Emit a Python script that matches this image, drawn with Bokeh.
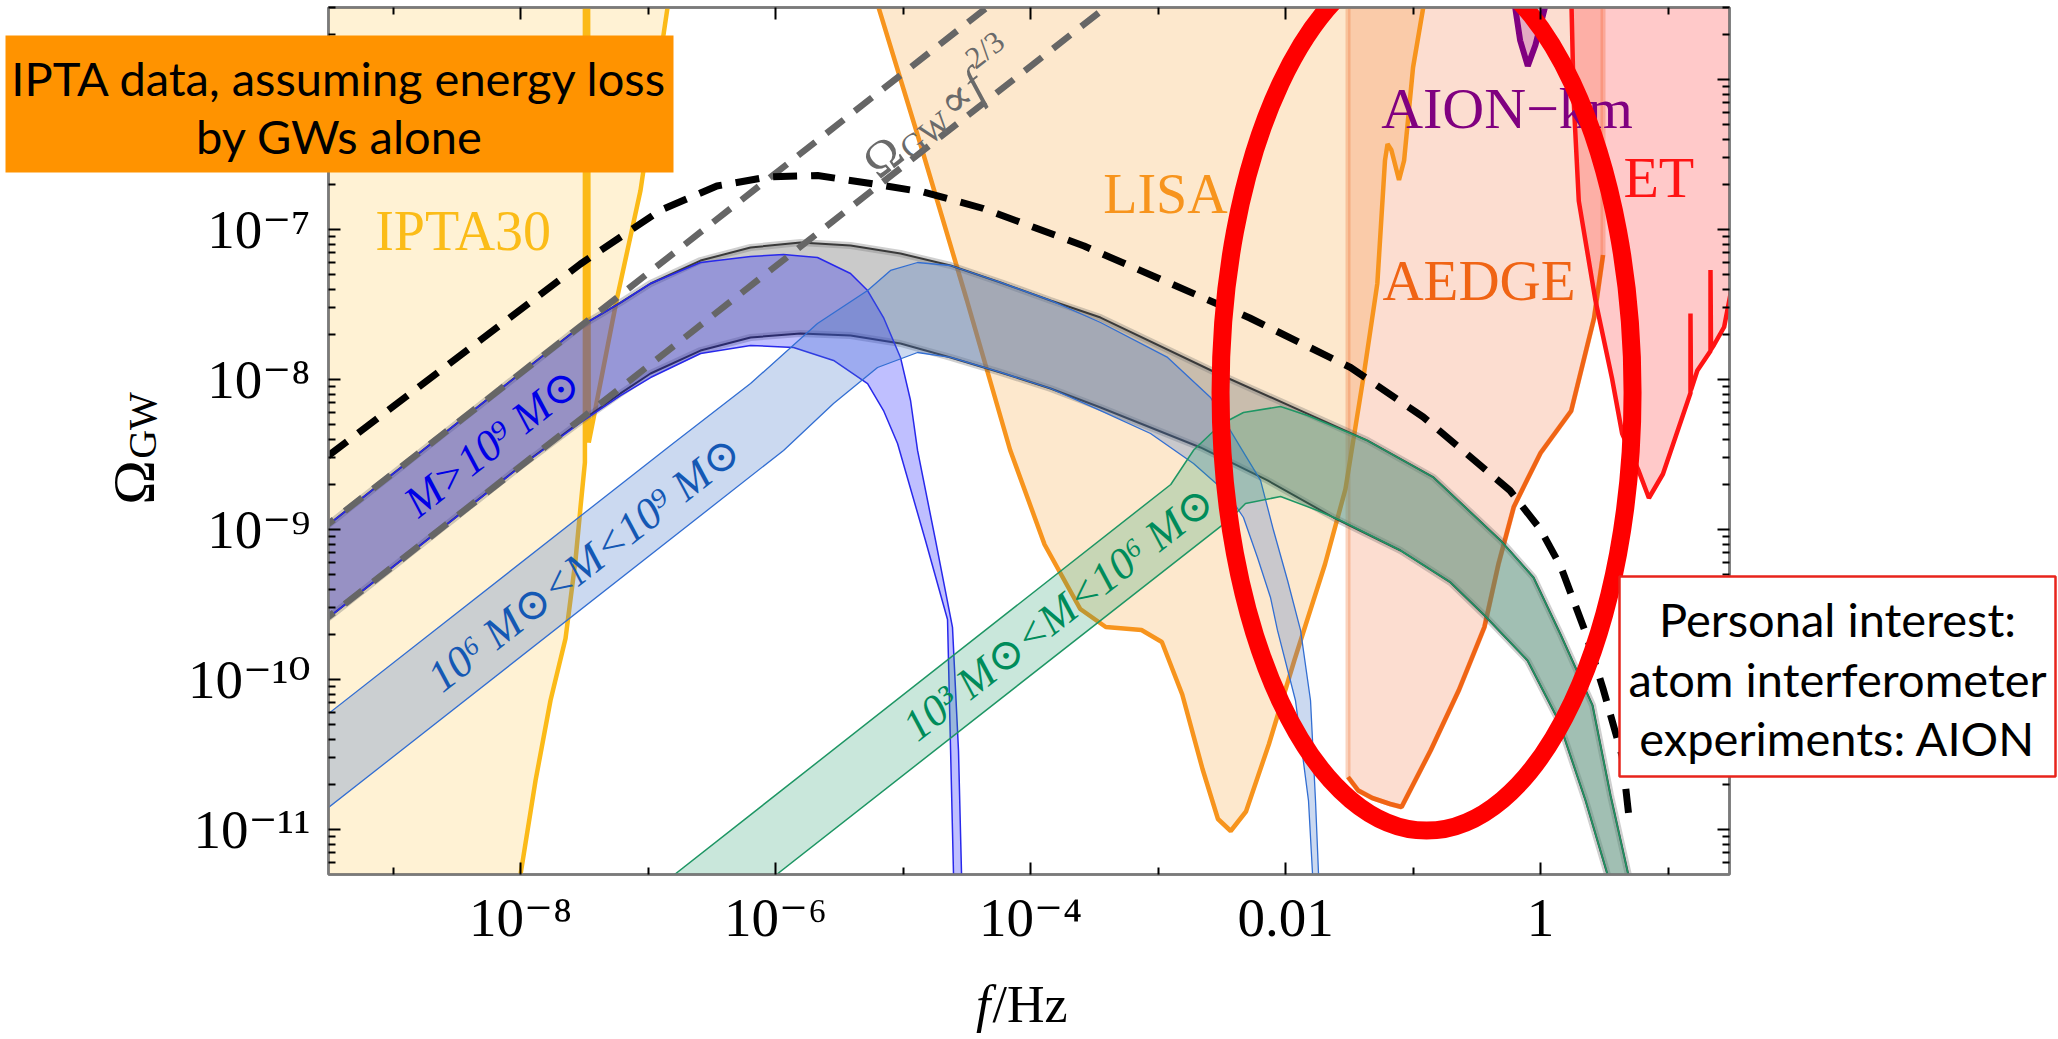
import math
from bokeh.plotting import figure
from bokeh.layouts import column
from bokeh.models import Range1d, FixedTicker, LogAxis, ColumnDataSource
from bokeh.core.properties import value
from bokeh.embed import file_html
from bokeh.resources import INLINE

# ---------------- data: log10(f/Hz), log10(Omega_GW) ----------------
ipta_lf = [-8.03, -8.00, -7.882, -7.765, -7.647, -7.569, -7.529, -7.495, -7.495, -7.47, -7.465, -7.42, -7.247, -7.059, -6.847, -6.83]
ipta_lo = [-11.6, -11.30, -10.673, -10.14, -9.727, -9.207, -8.847, -8.553, -5.40, -5.40, -8.42, -8.227, -7.473, -6.74, -5.52, -5.40]

lisa_lf = [-5.235, -4.85, -4.50, -4.16, -3.89, -3.61, -3.41, -3.13, -2.97, -2.81, -2.65, -2.53, -2.43, -2.31, -2.13, -1.93,
           -1.69, -1.53, -1.39, -1.28, -1.22, -1.20, -1.17, -1.11, -1.07, -1.00, -0.92, -0.89]
lisa_lo = [-5.40, -6.47, -7.47, -8.47, -9.10, -9.53, -9.65, -9.67, -9.75, -10.10, -10.60, -10.93, -11.01, -10.88, -10.43, -9.87,
           -9.23, -8.73, -7.99, -7.36, -6.54, -6.43, -6.47, -6.67, -6.54, -5.92, -5.52, -5.40]

aedge_lf = [-1.51, -1.51, -1.43, -1.32, -1.18, -1.09, -0.86, -0.64, -0.44, -0.33, -0.21, -0.10, 0.00, 0.24, 0.42, 0.49, 0.49]
aedge_lo = [-5.40, -10.65, -10.74, -10.79, -10.83, -10.85, -10.47, -10.07, -9.65, -9.23, -8.85, -8.66, -8.49, -8.21, -7.59, -7.17, -5.40]

et_lf = [0.24, 0.26, 0.30, 0.43, 0.56, 0.64, 0.77, 0.85, 0.96, 1.176, 1.176, 1.18, 1.23, 1.333, 1.333, 1.337, 1.36, 1.44, 1.49, 1.55]
et_lo = [-5.40, -6.14, -6.81, -7.47, -7.99, -8.36, -8.61, -8.79, -8.63, -8.09, -7.56, -8.07, -7.94, -7.81, -7.27, -7.80, -7.77, -7.65, -7.43, -7.10]

aion_lf = [-0.22, -0.16, -0.10, -0.04, 0.07]
aion_lo = [-5.40, -5.74, -5.91, -5.77, -5.40]

bh_lf = [-9.51, -7.53, -6.90, -6.46, -6.06, -5.67, -5.28, -4.84, -4.37, -3.58, -2.28, -1.49, -0.92, -0.24, 0.0, 0.16, 0.35, 0.49, 0.64, 0.69]
bh_lo = [-8.51, -7.23, -6.87, -6.71, -6.65, -6.64, -6.69, -6.75, -6.86, -7.11, -7.59, -7.92, -8.25, -8.74, -9.0, -9.25, -9.68, -10.06, -10.51, -10.89]

pl_hi_lf = [-9.6, -4.2]          # Omega_GW ∝ f^(2/3), upper
pl_hi_lo = [-9.025, -5.425]
pl_lo_lf = [-9.6, -3.3]          # Omega_GW ∝ f^(2/3), lower
pl_lo_lo = [-9.645, -5.445]

grey_up_lf = [-9.6, -8.157, -7.529, -7.216, -6.98, -6.588, -6.196, -5.804, -5.412, -5.02, -4.627, -4.235, -3.843, -3.451,
              -2.533, -1.882, -1.357, -0.839, -0.314, -0.055, 0.157, 0.408, 0.549, 0.690, 0.72]
grey_up_lo = [-9.03, -8.063, -7.645, -7.487, -7.36, -7.207, -7.12, -7.087, -7.107, -7.16, -7.24, -7.353, -7.473, -7.587,
              -7.96, -8.207, -8.407, -8.653, -9.073, -9.32, -9.70, -10.173, -10.773, -11.307, -11.6]
grey_dn_lf = [-9.6, -8.0, -7.529, -7.216, -6.98, -6.588, -6.196, -5.804, -5.412, -5.02, -4.627, -4.235, -3.843, -3.451,
              -2.667, -2.141, -1.624, -1.098, -0.706, -0.439, -0.102, 0.141, 0.353, 0.525, 0.55]
grey_dn_lo = [-9.65, -8.578, -8.28, -8.093, -7.96, -7.807, -7.72, -7.693, -7.707, -7.76, -7.853, -7.953, -8.06, -8.187,
              -8.453, -8.673, -8.92, -9.14, -9.353, -9.573, -9.873, -10.273, -10.807, -11.30, -11.6]

pur_up_lf = [-9.6, -8.157, -7.529, -7.216, -6.98, -6.588, -6.196, -5.937, -5.671, -5.412, -5.278, -5.153, -5.02, -4.941,
             -4.886, -4.745, -4.612, -4.565, -4.541, -4.535]
pur_up_lo = [-9.03, -8.063, -7.645, -7.487, -7.36, -7.22, -7.18, -7.167, -7.187, -7.293, -7.407, -7.587, -7.853, -8.14,
             -8.473, -9.073, -9.653, -10.473, -11.30, -11.6]
pur_dn_lf = [-9.6, -8.0, -7.529, -7.216, -6.98, -6.588, -6.196, -5.859, -5.545, -5.278, -5.153, -5.043, -4.824, -4.651,
             -4.627, -4.604, -4.60]
pur_dn_lo = [-9.65, -8.58, -8.287, -8.107, -7.987, -7.827, -7.773, -7.787, -7.873, -8.027, -8.207, -8.427, -9.073, -9.60,
             -10.473, -11.30, -11.6]

lb_up_lf = [-9.6, -6.824, -6.196, -5.671, -5.278, -5.098, -4.886, -4.627, -4.235, -3.843, -3.451, -2.925, -2.588, -2.353,
            -2.196, -2.094, -1.984, -1.882, -1.804, -1.765, -1.741, -1.74]
lb_up_lo = [-10.29, -8.44, -8.027, -7.627, -7.407, -7.273, -7.22, -7.24, -7.353, -7.473, -7.62, -7.853, -8.12, -8.453,
            -8.673, -9.007, -9.34, -9.673, -10.14, -10.807, -11.30, -11.6]
lb_dn_lf = [-9.6, -5.937, -5.545, -5.2, -4.886, -4.627, -4.235, -3.843, -3.451, -3.059, -2.722, -2.455, -2.33, -2.22,
            -2.118, -2.063, -1.922, -1.82, -1.788, -1.785]
lb_dn_lo = [-10.916, -8.473, -8.16, -7.92, -7.82, -7.853, -7.953, -8.06, -8.207, -8.36, -8.56, -8.76, -8.92, -9.187,
            -9.453, -9.673, -10.14, -10.807, -11.30, -11.6]

gr_up_lf = [-7.24, -6.792, -2.9, -2.72, -2.51, -2.33, -2.04, -1.827, -1.357, -0.839, -0.314, -0.055, 0.157, 0.408, 0.549, 0.690, 0.72]
gr_up_lo = [-11.6, -11.30, -8.70, -8.47, -8.30, -8.22, -8.18, -8.24, -8.407, -8.653, -9.073, -9.32, -9.70, -10.173, -10.773, -11.307, -11.6]
gr_dn_lf = [-6.44, -5.992, -2.431, -2.314, -2.039, -1.749, -1.569, -1.098, -0.706, -0.439, -0.102, 0.141, 0.353, 0.525, 0.55]
gr_dn_lo = [-11.6, -11.30, -8.927, -8.827, -8.78, -8.873, -8.94, -9.14, -9.353, -9.573, -9.873, -10.273, -10.807, -11.30, -11.6]

x_major = [1e-8, 1e-6, 1e-4, 1e-2, 1.0]
x_minor = [1e-9, 1e-7, 1e-5, 1e-3, 1e-1, 10.0]
x_labels = {1e-8: "10⁻⁸", 1e-6: "10⁻⁶", 1e-4: "10⁻⁴", 1e-2: "0.01", 1.0: "1"}
y_major = [1e-12, 1e-11, 1e-10, 1e-9, 1e-8, 1e-7, 1e-6, 1e-5]
y_minor = [k * 10.0 ** n for n in range(-12, -5) for k in range(2, 10)]
y_labels = {1e-11: "10⁻¹¹", 1e-10: "10⁻¹⁰", 1e-9: "10⁻⁹", 1e-8: "10⁻⁸", 1e-7: "10⁻⁷", 1e-6: "10⁻⁶"}

# ---------------------------------------------------------------------------------------------
def pw(a):
    return [10.0 ** v for v in a]

W, H = 2058, 1039
X_MIN, X_MAX = -9.506, 1.482
Y_MIN, Y_MAX = -11.30, -5.52
SERIF = "'Liberation Serif', 'DejaVu Serif'"

p = figure(width=W, height=H, x_axis_type="log", y_axis_type="log",
           x_range=Range1d(10 ** X_MIN, 10 ** X_MAX), y_range=Range1d(10 ** Y_MIN, 10 ** Y_MAX),
           output_backend="svg", toolbar_location=None,
           min_border_left=328, min_border_right=329, min_border_top=7, min_border_bottom=165,
           background_fill_color="white", border_fill_color="white")
p.grid.visible = False
p.outline_line_color = "#7a7a7a"
p.outline_line_width = 2.5

def style(ax, ticker, labels):
    ax.ticker = ticker
    ax.major_tick_in = 12
    ax.major_tick_out = 0
    ax.minor_tick_in = 7
    ax.minor_tick_out = 0
    ax.major_tick_line_color = "black"
    ax.major_tick_line_width = 2
    ax.minor_tick_line_color = "black"
    ax.minor_tick_line_width = 2
    ax.axis_line_color = "#7a7a7a"
    ax.axis_line_width = 2.5
    if labels is None:
        ax.major_label_text_font_size = "2px"
        ax.major_label_text_alpha = 0
        ax.major_label_standoff = 0
    else:
        ax.major_label_overrides = labels
        ax.major_label_text_font = SERIF
        ax.major_label_text_font_size = "55px"
        ax.major_label_text_color = "black"

style(p.xaxis[0], FixedTicker(ticks=x_major, minor_ticks=x_minor), x_labels)
p.xaxis[0].major_label_standoff = 12
style(p.yaxis[0], FixedTicker(ticks=y_major, minor_ticks=y_minor), y_labels)
p.yaxis[0].major_label_standoff = 18
top = LogAxis()
style(top, FixedTicker(ticks=x_major, minor_ticks=x_minor), None)
p.add_layout(top, "above")
right = LogAxis()
style(right, FixedTicker(ticks=y_major, minor_ticks=y_minor), None)
p.add_layout(right, "right")

# ---------------- sensitivity regions ----------------
p.patch(pw([-9.6] + ipta_lf + [-9.6]), pw([-11.6] + ipta_lo + [-5.40]),
        fill_color=(255, 190, 40), fill_alpha=0.2, line_alpha=0)
p.patch(pw(lisa_lf), pw(lisa_lo), fill_color=(247, 148, 29), fill_alpha=0.22, line_alpha=0)
p.patch(pw(aedge_lf), pw(aedge_lo), fill_color=(240, 100, 40), fill_alpha=0.22,
        line_color=(240, 110, 40), line_alpha=0.3, line_width=5)
p.patch(pw(et_lf + [1.55]), pw(et_lo + [-5.40]), fill_color=(255, 40, 40), fill_alpha=0.25, line_alpha=0)

p.line(pw(ipta_lf), pw(ipta_lo), line_color=(251, 186, 24), line_width=4.5)
p.line(pw(lisa_lf), pw(lisa_lo), line_color=(247, 148, 29), line_width=4.5)
p.line(pw(aedge_lf[1:-1]), pw(aedge_lo[1:-1]), line_color=(240, 100, 20), line_width=4.5)
p.line(pw(et_lf), pw(et_lo), line_color=(255, 20, 20), line_width=4.5)
p.patch(pw(aion_lf), pw(aion_lo), fill_color=(200, 110, 180), fill_alpha=0.45,
        line_color=(128, 0, 128), line_width=6)

# ---------------- source bands ----------------
def band(up_lf, up_lo, dn_lf, dn_lo, fill, alpha, edge, ew):
    p.patch(pw(up_lf + dn_lf[::-1]), pw(up_lo + dn_lo[::-1]), fill_color=fill, fill_alpha=alpha, line_alpha=0)
    p.line(pw(up_lf), pw(up_lo), line_color=edge, line_width=ew)
    p.line(pw(dn_lf), pw(dn_lo), line_color=edge, line_width=ew)

p.line(pw(grey_up_lf), pw(grey_up_lo), line_color="#606060", line_width=7, line_alpha=0.3)
p.line(pw(grey_dn_lf), pw(grey_dn_lo), line_color="#606060", line_width=7, line_alpha=0.3)
band(grey_up_lf, grey_up_lo, grey_dn_lf, grey_dn_lo, (128, 128, 128), 0.42, "#3a3a3a", 2)
band(pur_up_lf, pur_up_lo, pur_dn_lf, pur_dn_lo, (0, 0, 255), 0.25, (40, 40, 235), 1.5)
band(lb_up_lf, lb_up_lo, lb_dn_lf, lb_dn_lo, (70, 120, 200), 0.28, (50, 110, 210), 1.3)
band(gr_up_lf, gr_up_lo, gr_dn_lf, gr_dn_lo, (40, 160, 110), 0.25, (30, 150, 100), 1.5)

# ---------------- dashed curves ----------------
p.line(pw(pl_hi_lf), pw(pl_hi_lo), line_color="#666666", line_width=6.5, line_dash="22 14")
p.line(pw(pl_lo_lf), pw(pl_lo_lo), line_color="#666666", line_width=6.5, line_dash="22 14")
p.line(pw(bh_lf), pw(bh_lo), line_color="black", line_width=7, line_dash="24 14")

# ---------------- in-plot labels ----------------
serif = value(SERIF)
p.text(x=pw([-9.14]), y=pw([-7.01]), text=["IPTA30"], text_font=serif, text_font_size=value("56px"),
       text_color=(251, 188, 24), text_align="left", text_baseline="alphabetic")
p.text(x=pw([-3.43]), y=pw([-6.76]), text=["LISA"], text_font=serif, text_font_size=value("56px"),
       text_color=(247, 148, 29), text_align="left", text_baseline="alphabetic")
p.text(x=pw([-1.25]), y=pw([-6.19]), text=["AION−km"], text_font=serif, text_font_size=value("58px"),
       text_color=(128, 0, 128), text_align="left", text_baseline="alphabetic")
p.text(x=pw([-1.24]), y=pw([-7.34]), text=["AEDGE"], text_font=serif, text_font_size=value("57px"),
       text_color=(240, 100, 20), text_align="left", text_baseline="alphabetic")
p.text(x=pw([0.65]), y=pw([-6.65]), text=["ET"], text_font=serif, text_font_size=value("58px"),
       text_color=(255, 20, 20), text_align="left", text_baseline="alphabetic")

ANG = math.atan((2.0 / 3.0) * 150.0 / 127.5)
p.text(x=pw([-8.22, -7.50, -3.78]), y=pw([-8.42, -9.23, -9.56]),
       text=["M>10⁹ M⊙", "10⁶ M⊙<M<10⁹ M⊙", "10³ M⊙<M<10⁶ M⊙"],
       text_color=["#0000e6", "#1458b4", "#008c5a"], text_font=serif, text_font_size=value("44px"),
       text_font_style="italic", angle=ANG, text_align="center", text_baseline="middle")

# Omega_GW ∝ f^{2/3} label built from pieces along the slanted baseline
pieces = [("Ω", "48px", "normal", 0, 0), ("GW", "33px", "normal", 37, 10), ("∝", "46px", "normal", 95, 0),
          ("f", "48px", "italic", 127, 0), ("2/3", "31px", "normal", 144, -21)]
c, s = math.cos(ANG), math.sin(ANG)
src = ColumnDataSource(dict(
    x=[10 ** -5.27] * len(pieces), y=[10 ** -6.585] * len(pieces),
    text=[q[0] for q in pieces], size=[q[1] for q in pieces], style=[q[2] for q in pieces],
    xo=[q[3] * c + q[4] * s for q in pieces], yo=[-q[3] * s + q[4] * c for q in pieces]))
p.text(x="x", y="y", text="text", text_font_size="size", text_font_style="style", x_offset="xo", y_offset="yo",
       source=src, text_font=serif, text_color="#6a6a6a", angle=ANG, text_align="left", text_baseline="alphabetic")

# ---------------- hand-drawn highlight ----------------
p.ellipse(x=[10 ** -0.894], y=[10 ** -8.087], width=412, height=876, width_units="screen", height_units="screen",
          fill_alpha=0, line_color="#ff0000", line_width=18)

# ---------------- transparent overlay page (slide text boxes and axis titles), pixel coordinates ----------------
ov = figure(width=W, height=H, x_range=Range1d(0, W), y_range=Range1d(H, 0),
            x_axis_location=None, y_axis_location=None, output_backend="svg", toolbar_location=None,
            min_border=0, min_border_left=0, min_border_right=0, min_border_top=0, min_border_bottom=0,
            background_fill_color=None, border_fill_color=None, outline_line_color=None,
            styles={"position": "absolute", "left": "0px", "top": "0px"})
ov.grid.visible = False
for fig in (p, ov):
    try:
        fig.frame_align = False
    except Exception:
        pass

# axis titles
ov.text(x=[133], y=[482], text=["Ω"], angle=math.pi / 2, text_font=serif, text_font_size=value("60px"),
        text_align="center", text_baseline="middle", text_color="black")
ov.text(x=[142], y=[425], text=["GW"], angle=math.pi / 2, text_font=serif, text_font_size=value("40px"),
        text_align="center", text_baseline="middle", text_color="black")
ov.text(x=[990], y=[1004], text=["f"], text_font=serif, text_font_style="italic", text_font_size=value("52px"),
        text_align="right", text_baseline="middle", text_color="black")
ov.text(x=[992], y=[1004], text=["/Hz"], text_font=serif, text_font_size=value("52px"),
        text_align="left", text_baseline="middle", text_color="black")

# orange note box
ov.quad(left=[5], right=[673], top=[35], bottom=[172], fill_color="#ff9300", line_alpha=0)
ov.text(x=[339, 339], y=[77, 135], text=["IPTA data, assuming energy loss", "by GWs alone"],
        text_font=value("Lato"), text_font_size=value("47px"), text_align="center", text_baseline="middle",
        text_color="black")

# personal-interest box
ov.quad(left=[1619], right=[2055], top=[576], bottom=[776], fill_color="white",
        line_color="#e8241c", line_width=2.5)
ov.text(x=[1837, 1837, 1837], y=[618, 678, 737],
        text=["Personal interest:", "atom interferometer", "experiments: AION"],
        text_font=value("Lato"), text_font_size=value("47px"), text_align="center", text_baseline="middle",
        text_color="black")

page = column(p, ov, width=W, height=H)
open("out.html", "w").write(file_html(page, INLINE))
